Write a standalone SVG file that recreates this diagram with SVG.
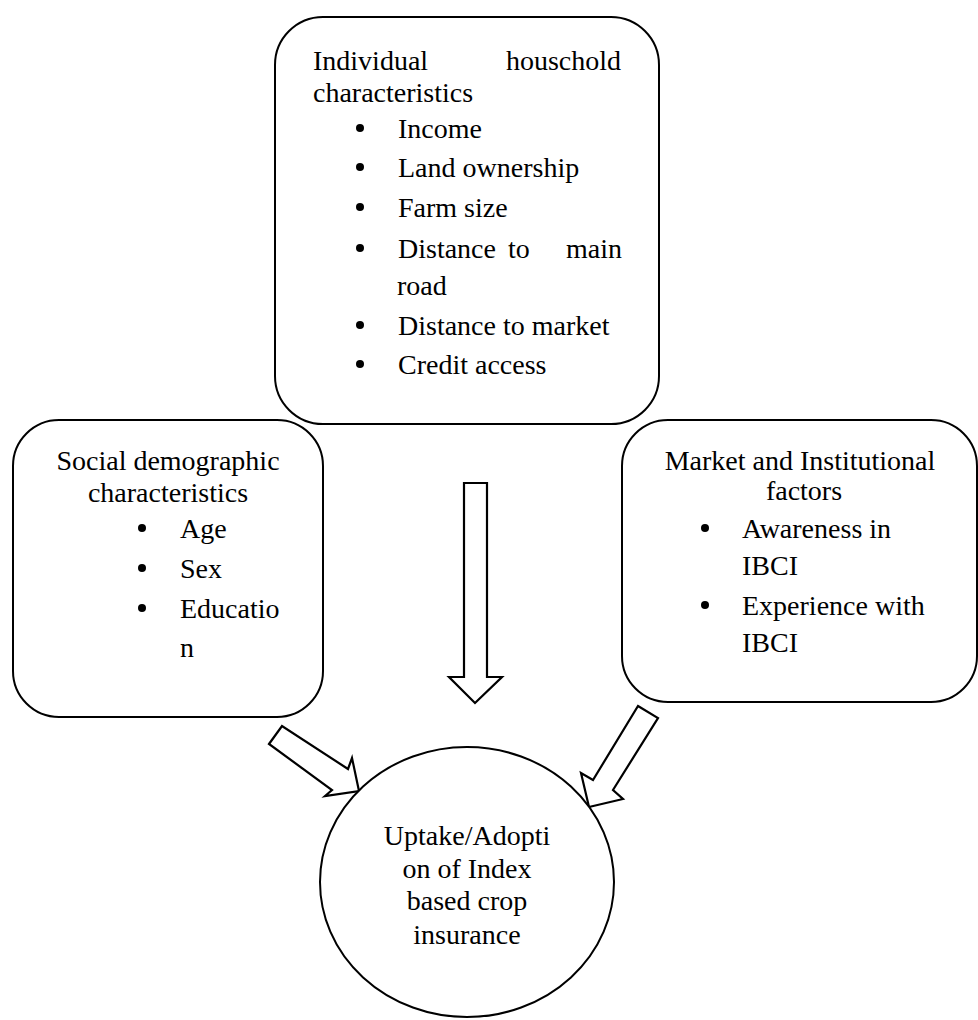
<svg xmlns="http://www.w3.org/2000/svg" width="978" height="1020" viewBox="0 0 978 1020">
<style>
.box{fill:#fff;stroke:#000;stroke-width:2}
.arr{fill:#fff;stroke:#000;stroke-width:2.2;stroke-linejoin:miter}
text{font-family:"Liberation Serif","Times New Roman",serif;font-size:28px;fill:#000}
.c{text-anchor:middle}
.e{text-anchor:end}
.dot{fill:#000}
</style>
<rect width="978" height="1020" fill="#fff"/>
<g id="connectors">
<path class="arr" d="M464,483 L487,483 L487,677 L502,677 L475,703 L449,677 L464,677 Z"/>
<path class="arr" d="M269,744 L282,726 L348,769 L352,758 L359,791 L325,796 L332,790 Z"/>
<path class="arr" d="M638,706 L658,718 L613,790 L623,799 L589,807 L581,773 L593,780 Z"/>
</g>
<g id="node-household">
<rect class="box" x="275" y="17" width="384" height="407" rx="48" ry="48"/>
<text x="313" y="70">Individual</text>
<text class="e" x="621" y="70">houschold</text>
<text x="313" y="102">characteristics</text>
<circle class="dot" cx="360" cy="128" r="4"/>
<text x="398" y="138">Income</text>
<circle class="dot" cx="360" cy="167" r="4"/>
<text x="398" y="177">Land ownership</text>
<circle class="dot" cx="360" cy="207" r="4"/>
<text x="398" y="217">Farm size</text>
<circle class="dot" cx="360" cy="248" r="4"/>
<text x="398" y="258">Distance</text>
<text x="508" y="258">to</text>
<text class="e" x="622" y="258">main</text>
<text x="397" y="295">road</text>
<circle class="dot" cx="360" cy="325" r="4"/>
<text x="398" y="335">Distance to market</text>
<circle class="dot" cx="360" cy="364" r="4"/>
<text x="398" y="374">Credit access</text>
</g>
<g id="node-social">
<rect class="box" x="13" y="420" width="310" height="297" rx="46" ry="46"/>
<text class="c" x="168" y="470">Social demographic</text>
<text class="c" x="168" y="502">characteristics</text>
<circle class="dot" cx="142" cy="528" r="4"/>
<text x="180" y="538">Age</text>
<circle class="dot" cx="142" cy="568" r="4"/>
<text x="180" y="578">Sex</text>
<circle class="dot" cx="142" cy="608" r="4"/>
<text x="180" y="618">Educatio</text>
<text x="180" y="657">n</text>
</g>
<g id="node-market">
<rect class="box" x="622" y="420" width="355" height="282" rx="46" ry="46"/>
<text class="c" x="800" y="470">Market and Institutional</text>
<text class="c" x="804" y="500">factors</text>
<circle class="dot" cx="705" cy="528" r="4"/>
<text x="742" y="538">Awareness in</text>
<text x="742" y="575">IBCI</text>
<circle class="dot" cx="705" cy="605" r="4"/>
<text x="742" y="615">Experience with</text>
<text x="742" y="652">IBCI</text>
</g>
<g id="node-uptake">
<ellipse class="box" cx="467" cy="882" rx="147" ry="135"/>
<text class="c" x="467" y="845">Uptake/Adopti</text>
<text class="c" x="467" y="878">on of Index</text>
<text class="c" x="467" y="910">based crop</text>
<text class="c" x="467" y="944">insurance</text>
</g>
</svg>
